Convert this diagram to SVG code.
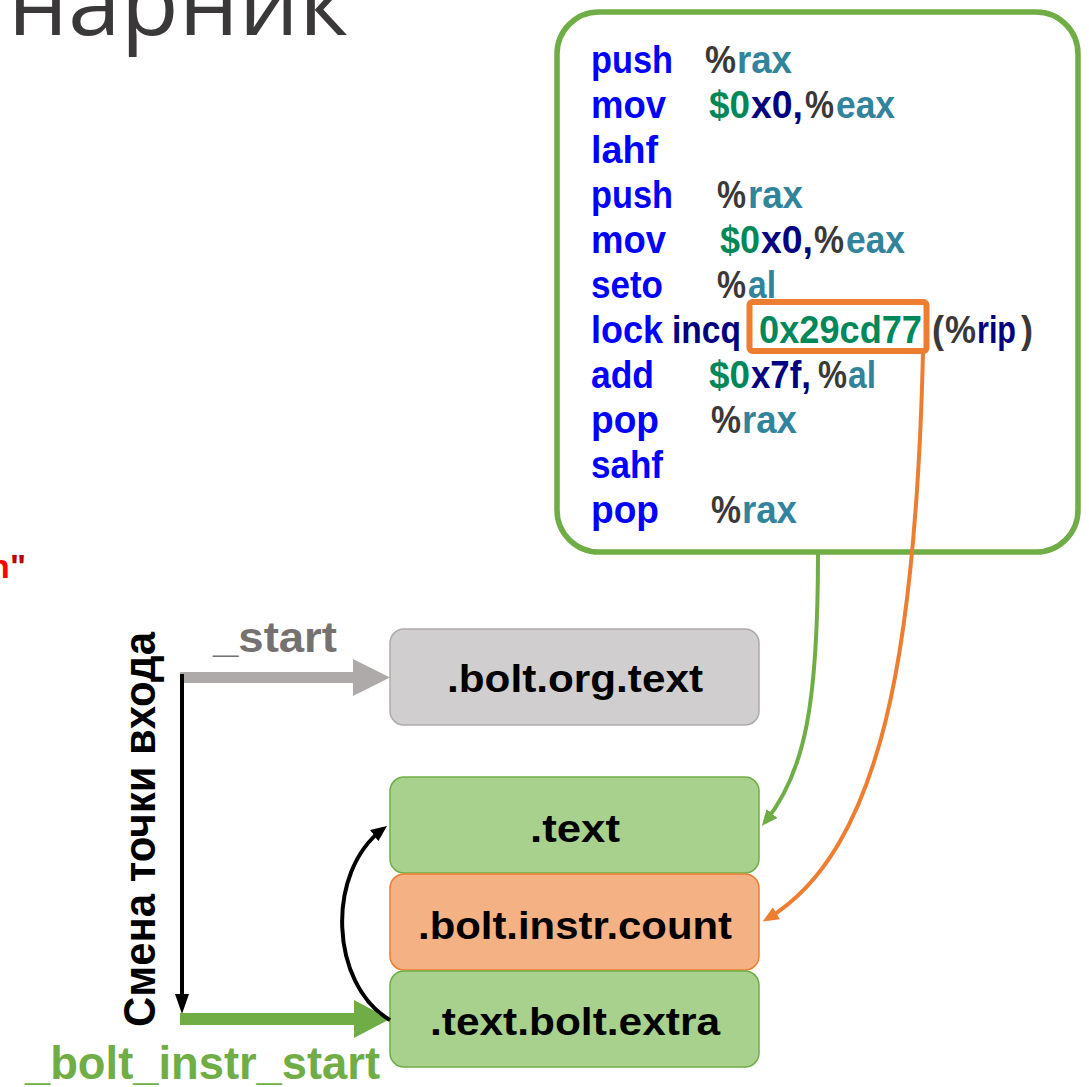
<svg xmlns="http://www.w3.org/2000/svg" width="1089" height="1087" viewBox="0 0 1089 1087">
  <style>
    .code { font-family: "Liberation Sans", Arial, sans-serif; font-weight: bold; font-size: 38px; }
    .kw { fill: #0000ff; }
    .nv { fill: #000080; }
    .gn { fill: #00875a; }
    .tl { fill: #31849b; }
    .dg { fill: #3b3838; }
    .node-label { font-family: "Liberation Sans", Arial, sans-serif; font-weight: bold; font-size: 39px; fill: #000000; text-anchor: middle; }
    .sec-gray { fill: #d0cece; stroke: #aeaaaa; stroke-width: 1.5; }
    .sec-green { fill: #a9d18e; stroke: #70ad47; stroke-width: 1.5; }
    .sec-orange { fill: #f4b183; stroke: #ed7d31; stroke-width: 1.5; }
    .curve { fill: none; stroke-width: 4; }
  </style>
  <defs>
    <marker id="head-green" markerUnits="userSpaceOnUse" viewBox="0 0 16 14" refX="11" refY="7" markerWidth="16" markerHeight="14" orient="auto">
      <path d="M0,0 L16,7 L0,14 Z" fill="#70ad47"/>
    </marker>
    <marker id="head-orange" markerUnits="userSpaceOnUse" viewBox="0 0 16 14" refX="11" refY="7" markerWidth="16" markerHeight="14" orient="auto">
      <path d="M0,0 L16,7 L0,14 Z" fill="#ed7d31"/>
    </marker>
    <marker id="head-black" markerUnits="userSpaceOnUse" viewBox="0 0 16 14" refX="11" refY="7" markerWidth="16" markerHeight="14" orient="auto">
      <path d="M0,0 L16,7 L0,14 Z" fill="#000000"/>
    </marker>
  </defs>

  <rect width="1089" height="1087" fill="#ffffff"/>

  <!-- slide title, clipped at the top edge -->
  <text x="8" y="35" font-family="'Open Sans', 'Noto Sans', sans-serif" font-size="92" font-weight="500" fill="#3a3838" textLength="340" lengthAdjust="spacingAndGlyphs">нарник</text>

  <!-- fragment of a red caption at the left edge -->
  <text x="26" y="578" font-family="'Liberation Sans', Arial, sans-serif" font-weight="bold" font-size="34" text-anchor="end"><tspan fill="#ff0000">n</tspan><tspan fill="#c00000">"</tspan></text>

  <!-- instrumentation snippet -->
  <g id="code-snippet">
    <rect x="557" y="12" width="521" height="540" rx="42" fill="#ffffff" stroke="#70ad47" stroke-width="5.5"/>
    <g class="code">
      <!-- push %rax -->
      <text class="kw" x="591" y="73" textLength="82" lengthAdjust="spacingAndGlyphs">push</text>
      <text class="dg" x="705" y="73" textLength="31" lengthAdjust="spacingAndGlyphs">%</text>
      <text class="tl" x="737" y="73" textLength="55" lengthAdjust="spacingAndGlyphs">rax</text>
      <!-- mov $0x0,%eax -->
      <text class="kw" x="591" y="118" textLength="75" lengthAdjust="spacingAndGlyphs">mov</text>
      <text class="gn" x="709" y="118" textLength="41" lengthAdjust="spacingAndGlyphs">$0</text>
      <text class="nv" x="751" y="118" textLength="52" lengthAdjust="spacingAndGlyphs">x0,</text>
      <text class="dg" x="805" y="118" textLength="29" lengthAdjust="spacingAndGlyphs">%</text>
      <text class="tl" x="836" y="118" textLength="59" lengthAdjust="spacingAndGlyphs">eax</text>
      <!-- lahf -->
      <text class="kw" x="591" y="163" textLength="67" lengthAdjust="spacingAndGlyphs">lahf</text>
      <!-- push %rax -->
      <text class="kw" x="591" y="208" textLength="82" lengthAdjust="spacingAndGlyphs">push</text>
      <text class="dg" x="717" y="208" textLength="29" lengthAdjust="spacingAndGlyphs">%</text>
      <text class="tl" x="748" y="208" textLength="55" lengthAdjust="spacingAndGlyphs">rax</text>
      <!-- mov $0x0,%eax -->
      <text class="kw" x="591" y="253" textLength="75" lengthAdjust="spacingAndGlyphs">mov</text>
      <text class="gn" x="720" y="253" textLength="40" lengthAdjust="spacingAndGlyphs">$0</text>
      <text class="nv" x="761" y="253" textLength="52" lengthAdjust="spacingAndGlyphs">x0,</text>
      <text class="dg" x="814" y="253" textLength="30" lengthAdjust="spacingAndGlyphs">%</text>
      <text class="tl" x="846" y="253" textLength="59" lengthAdjust="spacingAndGlyphs">eax</text>
      <!-- seto %al -->
      <text class="kw" x="591" y="298" textLength="72" lengthAdjust="spacingAndGlyphs">seto</text>
      <text class="dg" x="717" y="298" textLength="29" lengthAdjust="spacingAndGlyphs">%</text>
      <text class="tl" x="748" y="298" textLength="28" lengthAdjust="spacingAndGlyphs">al</text>
      <!-- lock incq 0x29cd77(%rip) -->
      <text class="kw" x="591" y="343" textLength="72" lengthAdjust="spacingAndGlyphs">lock</text>
      <text class="nv" x="672" y="343" textLength="69" lengthAdjust="spacingAndGlyphs">incq</text>
      <text class="gn" x="759" y="343" textLength="163" lengthAdjust="spacingAndGlyphs">0x29cd77</text>
      <text class="dg" x="932" y="343" textLength="12" lengthAdjust="spacingAndGlyphs">(</text>
      <text class="dg" x="945" y="343" textLength="31" lengthAdjust="spacingAndGlyphs">%</text>
      <text class="nv" x="977" y="343" textLength="39" lengthAdjust="spacingAndGlyphs">rip</text>
      <text class="dg" x="1021" y="343" textLength="12" lengthAdjust="spacingAndGlyphs">)</text>
      <!-- add $0x7f,%al -->
      <text class="kw" x="591" y="388" textLength="63" lengthAdjust="spacingAndGlyphs">add</text>
      <text class="gn" x="709" y="388" textLength="41" lengthAdjust="spacingAndGlyphs">$0</text>
      <text class="nv" x="751" y="388" textLength="60" lengthAdjust="spacingAndGlyphs">x7f,</text>
      <text class="dg" x="818" y="388" textLength="29" lengthAdjust="spacingAndGlyphs">%</text>
      <text class="tl" x="848" y="388" textLength="28" lengthAdjust="spacingAndGlyphs">al</text>
      <!-- pop %rax -->
      <text class="kw" x="591" y="433" textLength="68" lengthAdjust="spacingAndGlyphs">pop</text>
      <text class="dg" x="711" y="433" textLength="30" lengthAdjust="spacingAndGlyphs">%</text>
      <text class="tl" x="742" y="433" textLength="55" lengthAdjust="spacingAndGlyphs">rax</text>
      <!-- sahf -->
      <text class="kw" x="591" y="478" textLength="72" lengthAdjust="spacingAndGlyphs">sahf</text>
      <!-- pop %rax -->
      <text class="kw" x="591" y="523" textLength="68" lengthAdjust="spacingAndGlyphs">pop</text>
      <text class="dg" x="711" y="523" textLength="30" lengthAdjust="spacingAndGlyphs">%</text>
      <text class="tl" x="742" y="523" textLength="55" lengthAdjust="spacingAndGlyphs">rax</text>
    </g>
    <!-- highlighted counter address -->
    <rect x="749.5" y="302" width="177" height="49" rx="3" fill="none" stroke="#ed7d31" stroke-width="6"/>
  </g>

  <!-- binary sections -->
  <g id="sec-bolt-org-text">
    <rect class="sec-gray" x="390" y="629" width="369" height="96" rx="14"/>
    <text class="node-label" x="575" y="692" textLength="256" lengthAdjust="spacingAndGlyphs">.bolt.org.text</text>
  </g>
  <g id="sec-text">
    <rect class="sec-green" x="390" y="777" width="369" height="96" rx="14"/>
    <text class="node-label" x="575" y="842" textLength="90" lengthAdjust="spacingAndGlyphs">.text</text>
  </g>
  <g id="sec-bolt-instr-count">
    <rect class="sec-orange" x="390" y="874" width="369" height="96" rx="14"/>
    <text class="node-label" x="575" y="939" textLength="314" lengthAdjust="spacingAndGlyphs">.bolt.instr.count</text>
  </g>
  <g id="sec-text-bolt-extra">
    <rect class="sec-green" x="390" y="971" width="369" height="96" rx="14"/>
    <text class="node-label" x="575" y="1035" textLength="290" lengthAdjust="spacingAndGlyphs">.text.bolt.extra</text>
  </g>

  <!-- entry point labels -->
  <text x="213" y="652" font-family="'Liberation Sans', Arial, sans-serif" font-weight="bold" font-size="42" fill="#767171" textLength="124" lengthAdjust="spacingAndGlyphs">_start</text>
  <text x="25" y="1079" font-family="'Liberation Sans', Arial, sans-serif" font-weight="bold" font-size="46" fill="#70ad47" textLength="355" lengthAdjust="spacingAndGlyphs">_bolt_instr_start</text>
  <text transform="translate(155,1027) rotate(-90)" x="0" y="0" font-family="'Liberation Sans', Arial, sans-serif" font-weight="bold" font-size="45" fill="#000000" textLength="395" lengthAdjust="spacingAndGlyphs">Смена точки входа</text>

  <!-- connectors -->
  <g id="connectors">
    <!-- original entry -->
    <line x1="180" y1="677.5" x2="356" y2="677.5" stroke="#aeaaaa" stroke-width="11"/>
    <polygon points="353,659 390,677.5 353,696" fill="#aeaaaa"/>
    <!-- entry point move -->
    <line x1="182" y1="674" x2="182" y2="996" stroke="#000000" stroke-width="4"/>
    <polygon points="175,994 182,1014 189,994" fill="#000000"/>
    <!-- new entry -->
    <line x1="180" y1="1019" x2="356" y2="1019" stroke="#70ad47" stroke-width="12"/>
    <polygon points="354,1000 390,1019 354,1038" fill="#70ad47"/>
    <!-- jump back from extra to .text -->
    <path class="curve" d="M 390 1020 C 330 985, 325 872, 383 829" stroke="#000000" marker-end="url(#head-black)"/>
    <!-- snippet placed into .text -->
    <path class="curve" d="M 818 553 C 818 700, 806 772, 765 822" stroke="#70ad47" marker-end="url(#head-green)"/>
    <!-- counter address into .bolt.instr.count -->
    <path class="curve" d="M 923 352 C 916 650, 882 850, 767 919" stroke="#ed7d31" marker-end="url(#head-orange)"/>
  </g>
</svg>
